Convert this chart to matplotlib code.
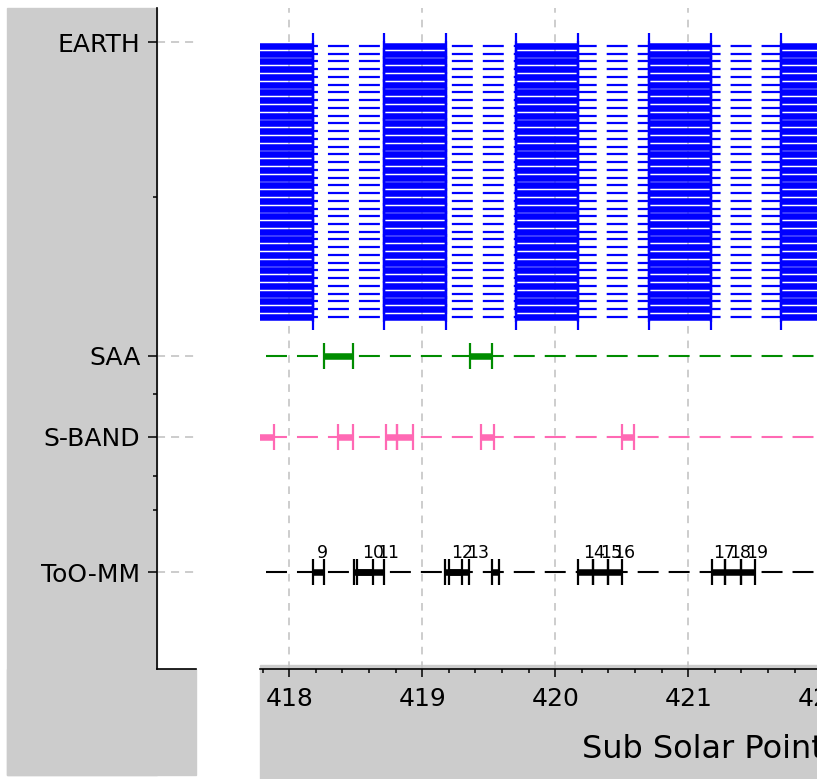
import numpy as np
import matplotlib
matplotlib.use("Agg")
import matplotlib.pyplot as plt
from matplotlib.patches import Rectangle
from matplotlib.ticker import MultipleLocator

plt.rcParams['lines.scale_dashes'] = False
plt.rcParams['font.family'] = ['DejaVu Sans']

# --- data -------------------------------------------------------------
# y positions are in "row" units (one EARTH row = 1)
ytick_pos = [-0.5, 40, 50.5, 68]
ytick_labels = ['EARTH', 'SAA', 'S-BAND', 'ToO-MM']
yminor_pos = [19.5, 45, 55.5, 60]

xmin = 417.78
base_start = 417.825      # start of the dashed timeline
base_end = 424.0

earth_rows = np.arange(36)
earth_windows = [(417.712, 418.178), (418.712, 419.178), (419.705, 420.171),
                 (420.704, 421.170), (421.697, 422.163)]

saa_y = 40
saa_windows = [(418.26, 418.48), (419.359, 419.522)]

sband_y = 50.5
sband_windows = [(417.70, 417.887), (418.364, 418.481), (418.725, 418.812),
                 (418.812, 418.928), (419.439, 419.539), (420.50, 420.59)]

too_y = 68
too_windows = [(418.176, 418.261), (418.486, 418.627), (418.507, 418.712),
               (419.171, 419.301), (419.201, 419.353), (419.526, 419.577),
               (420.173, 420.281), (420.281, 420.398), (420.398, 420.499),
               (421.176, 421.276), (421.276, 421.396), (421.396, 421.502)]
too_ids = ['9', '10', '11', '12', '13', '14', '15', '16', '17', '18', '19']
too_id_x = [418.253, 418.629, 418.742, 419.298, 419.419, 420.291, 420.419,
            420.517, 421.269, 421.389, 421.517]

BLUE = '#0000ff'
GREEN = '#008c00'
PINK = '#ff69b4'
BLACK = '#000000'
GRAY_BG = '#cccccc'

# --- figure / panels --------------------------------------------------
W, H = 817, 779
fig = plt.figure(figsize=(W / 100, H / 100), dpi=100, facecolor='white')

def fx(px):
    return px / W

def fy(py):
    return 1 - py / H

top_px, bot_px = 8, 668.5
ylim = (80.43, -4.91)

# gray backgrounds: left panel (left of the y spine and below it) and x-axis strip
fig.patches.append(Rectangle((fx(7), fy(775)), fx(157 - 7), (775 - 8) / H,
                             transform=fig.transFigure, color=GRAY_BG, zorder=-5))
fig.patches.append(Rectangle((fx(7), fy(775)), fx(196 - 7), (775 - bot_px) / H,
                             transform=fig.transFigure, color=GRAY_BG, zorder=-5))
fig.patches.append(Rectangle((fx(260), 0), 1 - fx(260), (779 - 665) / H,
                             transform=fig.transFigure, color=GRAY_BG, zorder=-5))

# left axis panel
axl = fig.add_axes([fx(157), fy(bot_px), fx(196 - 157), (bot_px - top_px) / H])
axl.set_facecolor('none')
axl.set_xlim(0, 1)
axl.set_ylim(*ylim)
axl.set_xticks([])
axl.set_yticks(ytick_pos)
axl.set_yticklabels(ytick_labels)
axl.set_yticks(yminor_pos, minor=True)
for s in ['top', 'right']:
    axl.spines[s].set_visible(False)
for s in ['left', 'bottom']:
    axl.spines[s].set_linewidth(1.2)
axl.tick_params(axis='y', which='major', length=6.5, width=1.1, labelsize=18, pad=5.5)
axl.tick_params(axis='y', which='minor', length=3, width=1.1)
axl.yaxis.grid(True, which='major', color='#c8c8c8', lw=1.3, dashes=(5.8, 4.3))

# main plot
span_px = 700
ax = fig.add_axes([fx(260), fy(bot_px), span_px / W, (bot_px - top_px) / H])
ax.set_facecolor('none')
ax.set_xlim(xmin, xmin + span_px / 133.0)
ax.set_ylim(*ylim)
ax.set_yticks([])
for s in ['top', 'right', 'left']:
    ax.spines[s].set_visible(False)
ax.spines['bottom'].set_linewidth(1.2)
ax.xaxis.set_major_locator(MultipleLocator(1))
ax.xaxis.set_minor_locator(MultipleLocator(0.2))
ax.tick_params(axis='x', which='major', length=6, width=1.1, labelsize=18, pad=7)
ax.tick_params(axis='x', which='minor', length=2.8, width=1.1)
ax.set_axisbelow(True)
ax.xaxis.grid(True, which='major', color='#c0c0c0', lw=1.1, dashes=(5.5, 5))

DASH = (0, (15.1, 7.2))

def timeline(y, windows, color):
    ax.hlines(y, base_start, base_end, colors=color, lw=1.5, linestyles=[DASH], zorder=2)
    for a, b in windows:
        ax.hlines(y, a, b, colors=color, lw=4.7, zorder=3)
        ax.plot([a, b], [y, y], ls='none', marker='|',
                ms=19, mew=1.6, color=color, zorder=3)

# EARTH rows
ax.hlines(earth_rows, base_start, base_end, colors=BLUE, lw=1.6, linestyles=[DASH], zorder=2)
for a, b in earth_windows:
    ax.hlines(earth_rows, a, b, colors=BLUE, lw=4.7, zorder=3)
    ax.plot(np.full(len(earth_rows), a), earth_rows, ls='none', marker='|',
            ms=19, mew=1.6, color=BLUE, zorder=3)
    ax.plot(np.full(len(earth_rows), b), earth_rows, ls='none', marker='|',
            ms=19, mew=1.6, color=BLUE, zorder=3)

timeline(saa_y, saa_windows, GREEN)
timeline(sband_y, sband_windows, PINK)
timeline(too_y, too_windows, BLACK)

for x, t in zip(too_id_x, too_ids):
    ax.text(x, too_y - 1.85, t, ha='center', va='baseline', fontsize=12.5,
            family=['Liberation Sans Narrow', 'DejaVu Sans'], zorder=4)

fig.text(fx(582), fy(758), 'Sub Solar Point', fontsize=23, ha='left', va='baseline')

fig.savefig('out.png', dpi=100, facecolor='white')
